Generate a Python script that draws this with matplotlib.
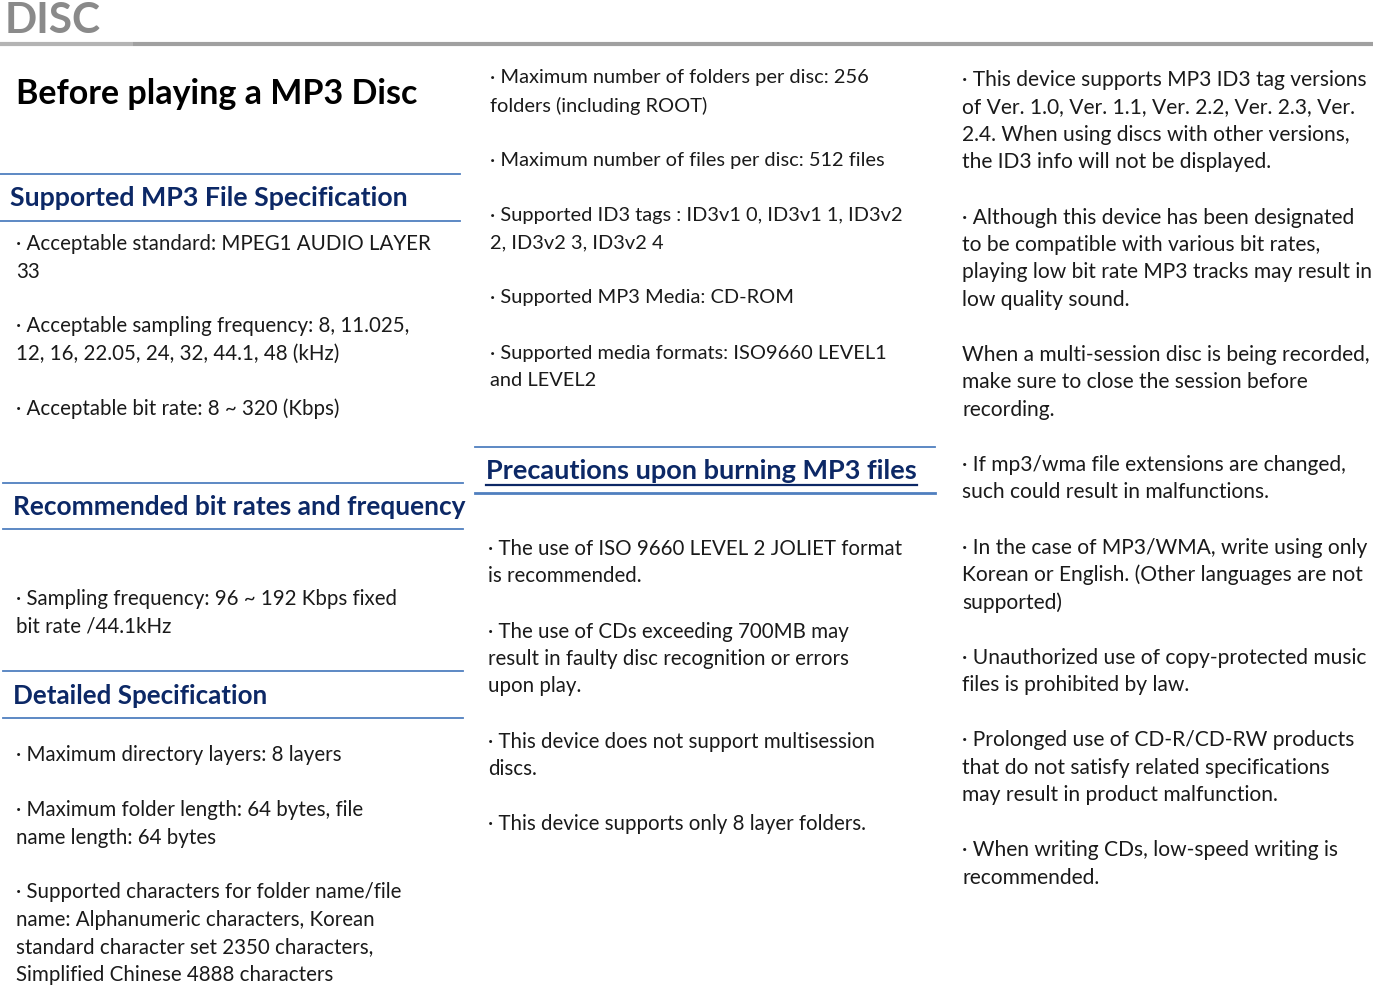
import matplotlib
matplotlib.use("Agg")
import matplotlib.pyplot as plt

# ---------------------------------------------------
# Page text (one list per block, lines wrapped as in the manual)
# ---------------------------------------------------
page_tag = "DISC"
page_title = "Before playing a MP3 Disc"

headings = [
    "Supported MP3 File Specification",
    "Recommended bit rates and frequency",
    "Detailed Specification",
    "Precautions upon burning MP3 files",
]

file_spec = [
    ["· Acceptable standard: MPEG1 AUDIO LAYER", "33"],
    ["· Acceptable sampling frequency: 8, 11.025,", "12, 16, 22.05, 24, 32, 44.1, 48 (kHz)"],
    ["· Acceptable bit rate: 8 ~ 320 (Kbps)"],
]
bitrates = [
    ["· Sampling frequency: 96 ~ 192 Kbps fixed", "bit rate /44.1kHz"],
]
detailed = [
    ["· Maximum directory layers: 8 layers"],
    ["· Maximum folder length: 64 bytes, file", "name length: 64 bytes"],
    ["· Supported characters for folder name/file",
     "name: Alphanumeric characters, Korean",
     "standard character set 2350 characters,",
     "Simplified Chinese 4888 characters"],
]
col2_top = [
    ["· Maximum number of folders per disc: 256", "folders (including ROOT)"],
    ["· Maximum number of files per disc: 512 files"],
    ["· Supported ID3 tags : ID3v1 0, ID3v1 1, ID3v2", "2, ID3v2 3, ID3v2 4"],
    ["· Supported MP3 Media: CD-ROM"],
    ["· Supported media formats: ISO9660 LEVEL1", "and LEVEL2"],
]
precautions = [
    ["· The use of ISO 9660 LEVEL 2 JOLIET format", "is recommended."],
    ["· The use of CDs exceeding 700MB may",
     "result in faulty disc recognition or errors", "upon play."],
    ["· This device does not support multisession", "discs."],
    ["· This device supports only 8 layer folders."],
]
col3 = [
    ["· This device supports MP3 ID3 tag versions",
     "of Ver. 1.0, Ver. 1.1, Ver. 2.2, Ver. 2.3, Ver.",
     "2.4. When using discs with other versions,",
     "the ID3 info will not be displayed."],
    ["· Although this device has been designated",
     "to be compatible with various bit rates,",
     "playing low bit rate MP3 tracks may result in",
     "low quality sound."],
    ["When a multi-session disc is being recorded,",
     "make sure to close the session before", "recording."],
    ["· If mp3/wma file extensions are changed,",
     "such could result in malfunctions."],
    ["· In the case of MP3/WMA, write using only",
     "Korean or English. (Other languages are not", "supported)"],
    ["· Unauthorized use of copy-protected music",
     "files is prohibited by law."],
    ["· Prolonged use of CD-R/CD-RW products",
     "that do not satisfy related specifications",
     "may result in product malfunction."],
    ["· When writing CDs, low-speed writing is", "recommended."],
]

# ---------------------------------------------------
# Figure in pixel coordinates
# ---------------------------------------------------
W, H = 1373, 986
fig = plt.figure(figsize=(W / 100, H / 100), dpi=100)
ax = fig.add_axes([0, 0, 1, 1])
ax.set_xlim(0, W)
ax.set_ylim(H, 0)
ax.axis("off")

FONT = "Lato"
BODY = "#1a1a1a"
NAVY = "#0c2866"
RULE = "#4f7fbf"
LH = 27.5      # body line height
PARA = 55      # gap between paragraph starts after last line


def block(x, y, paras, size=14.8):
    for para in paras:
        for line in para:
            ax.text(x, y, line, fontsize=size, family=FONT, color=BODY,
                    va="center")
            y += LH
        y += PARA - LH


def heading(x, y, s, size=19.2, underline=False):
    t = ax.text(x, y, s, fontsize=size, family=FONT, weight="bold",
                color=NAVY, va="center")
    if underline:
        r = fig.canvas.get_renderer()
        bb = t.get_window_extent(r)
        x0, _ = ax.transData.inverted().transform((bb.x0, 0))
        x1, _ = ax.transData.inverted().transform((bb.x1, 0))
        ax.plot([x0, x1], [y + 14, y + 14], color=NAVY, lw=1.6)


def rules(x0, x1, y0, y1, lw2=1.3):
    ax.plot([x0, x1], [y0, y0], color=RULE, lw=1.3)
    ax.plot([x0, x1], [y1, y1], color=RULE, lw=lw2)


# header
ax.text(5, 33, page_tag, fontsize=30.5, family=FONT, weight="bold",
        color="#8a8a8a", va="baseline")
ax.plot([0, 133], [44, 44], color="#b4b4b4", lw=3, solid_capstyle="butt")
ax.plot([133, W], [44, 44], color="#a0a0a0", lw=3, solid_capstyle="butt")
ax.text(16, 94, page_title, fontsize=24.5, family=FONT, weight="bold",
        color="black", va="center")

# column 1
rules(0, 460, 174, 221)
heading(10, 198, headings[0], size=19.3)
block(16, 244, file_spec)

rules(3, 463, 483, 529)
heading(13, 507, headings[1], size=18.9)
block(16, 599, bitrates)

rules(3, 463, 671, 718)
heading(13, 696, headings[2], size=18.7)
block(16, 755, detailed)

# column 2
block(490, 78, col2_top, size=14.4)
rules(475, 935, 447, 493, lw2=2)
heading(486, 471, headings[3], size=19.5, underline=True)
block(488, 549, precautions)

# column 3
block(962, 80, col3, size=15.1)

fig.savefig("out.png", dpi=100)
